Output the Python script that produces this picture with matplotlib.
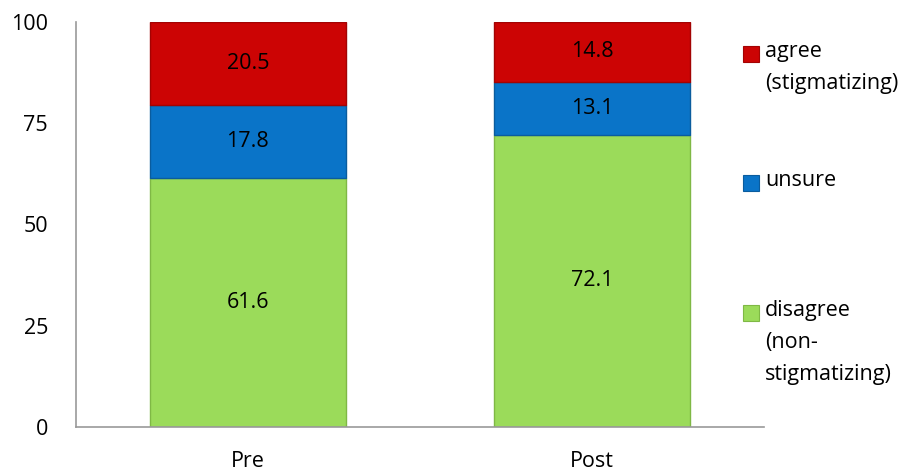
import matplotlib.pyplot as plt
from matplotlib.patches import Rectangle

groups = ['Pre', 'Post']
disagree = [61.6, 72.1]
unsure = [17.8, 13.1]
agree = [20.5, 14.8]

series_labels = ['agree\n(stigmatizing)', 'unsure', 'disagree\n(non-\nstigmatizing)']
colors = {'disagree': '#9BDB5A', 'unsure': '#0A74C8', 'agree': '#CC0404'}
edges = {'disagree': '#7FB845', 'unsure': '#0A5C9E', 'agree': '#A30303'}

plt.rcParams['font.family'] = ['Open Sans', 'DejaVu Sans']
fs = 15.5

fig = plt.figure(figsize=(9.13, 4.73), dpi=100)
ax = fig.add_axes([0.083, 0.0973, 0.754, 0.8562])

x = list(range(len(groups)))
w = 0.57
bottom2 = [d + u for d, u in zip(disagree, unsure)]
b1 = ax.bar(x, disagree, w, color=colors['disagree'], edgecolor=edges['disagree'], linewidth=1)
b2 = ax.bar(x, unsure, w, bottom=disagree, color=colors['unsure'], edgecolor=edges['unsure'], linewidth=1)
b3 = ax.bar(x, agree, w, bottom=bottom2, color=colors['agree'], edgecolor=edges['agree'], linewidth=1)

for bars, vals, bots in [(b1, disagree, [0, 0]), (b2, unsure, disagree), (b3, agree, bottom2)]:
    for i, v in enumerate(vals):
        ax.text(x[i], bots[i] + v / 2, f'{v}', ha='center', va='center', fontsize=fs, color='black')

ax.set_xlim(-0.5, 1.5)
ax.set_ylim(0, 100)
ax.set_yticks([0, 25, 50, 75, 100])
ax.set_xticks(x)
ax.set_xticklabels(groups)
ax.tick_params(axis='both', length=0, labelsize=fs)
ax.tick_params(axis='x', pad=17)
ax.tick_params(axis='y', pad=20)
for s in ['top', 'right']:
    ax.spines[s].set_visible(False)
for s in ['left', 'bottom']:
    ax.spines[s].set_color('#999999')
    ax.spines[s].set_linewidth(1.2)

# legend, drawn by hand to mimic the uneven spacing
leg = [('agree', series_labels[0], 54), ('unsure', series_labels[1], 183), ('disagree', series_labels[2], 313)]
for key, lab, ypix in leg:
    yf = 1 - ypix / 473
    fig.patches.append(Rectangle((743 / 913, yf - 8 / 473), 16 / 913, 16 / 473,
                                 transform=fig.transFigure, facecolor=colors[key],
                                 edgecolor=edges[key], linewidth=0.8))
    fig.text(765 / 913, yf + 13 / 473, lab, ha='left', va='top', fontsize=fs, linespacing=1.7)

fig.savefig('out.png', dpi=100)
